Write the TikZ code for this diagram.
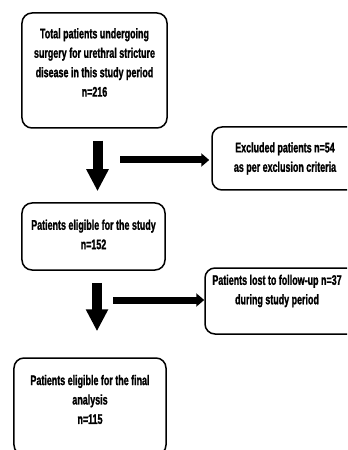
\documentclass[tikz,border=0pt]{standalone}
\usepackage{fontspec}
\setmainfont[FakeStretch=0.64,BoldFeatures={FakeBold=1.2}]{Liberation Sans}
\usepackage{tikz}
\usetikzlibrary{arrows.meta,positioning,calc}
\tikzset{
  stagebox/.style={draw=black,line width=1.5bp,rounded corners=10bp,inner sep=0pt},
  boxtext/.style={align=center,inner sep=0pt,font=\fontsize{14}{19.5}\selectfont\bfseries},
  downarrow/.style={-{Triangle[width=21bp,length=22bp]},line width=10bp},
  sidearrow/.style={-{Triangle[width=13bp,length=8bp]},line width=7bp}
}
\begin{document}
\begin{tikzpicture}[x=1bp,y=-1bp]
  \useasboundingbox (0,0) rectangle (347,450);
  \clip (0,0) rectangle (347,450);
  \node[stagebox,minimum width=145bp,minimum height=115bp,
    label={[boxtext,yshift=8bp]center:{Total patients undergoing\\surgery for urethral stricture\\disease in this study period\\n=216}}] (total) at (94.5,70.5) {};
  \node[stagebox,minimum width=146bp,minimum height=63bp,
    label={[boxtext]center:{Excluded patients n=54\\as per exclusion criteria}}] (excl) at (285,158.5) {};
  \node[stagebox,minimum width=143bp,minimum height=67bp,
    label={[boxtext,yshift=2bp]center:{Patients eligible for the study\\n=152}}] (elig) at (93.5,236.5) {};
  \node[stagebox,minimum width=170bp,minimum height=66bp,
    label={[boxtext,xshift=-13bp,yshift=10bp]center:{Patients lost to follow-up n=37\\during study period}}] (lost) at (290,301) {};
  \node[stagebox,minimum width=152bp,minimum height=97bp,
    label={[boxtext,yshift=7bp]center:{Patients eligible for the final\\analysis\\n=115}}] (final) at (90,406.5) {};
  \coordinate (s1) at (120,160);
  \coordinate (s2) at (113,300);
  \draw[downarrow,shorten <=12bp,shorten >=11bp] ([xshift=3bp]total.south) -- ([xshift=3bp]total.south |- elig.north);
  \draw[sidearrow,shorten >=2bp] (s1) -- (s1 -| excl.west);
  \draw[downarrow,shorten <=12bp,shorten >=26bp] ([xshift=3.5bp]elig.south) -- ([xshift=3.5bp]elig.south |- final.north);
  \draw[sidearrow] (s2) -- (s2 -| lost.west);
\end{tikzpicture}
\end{document}
